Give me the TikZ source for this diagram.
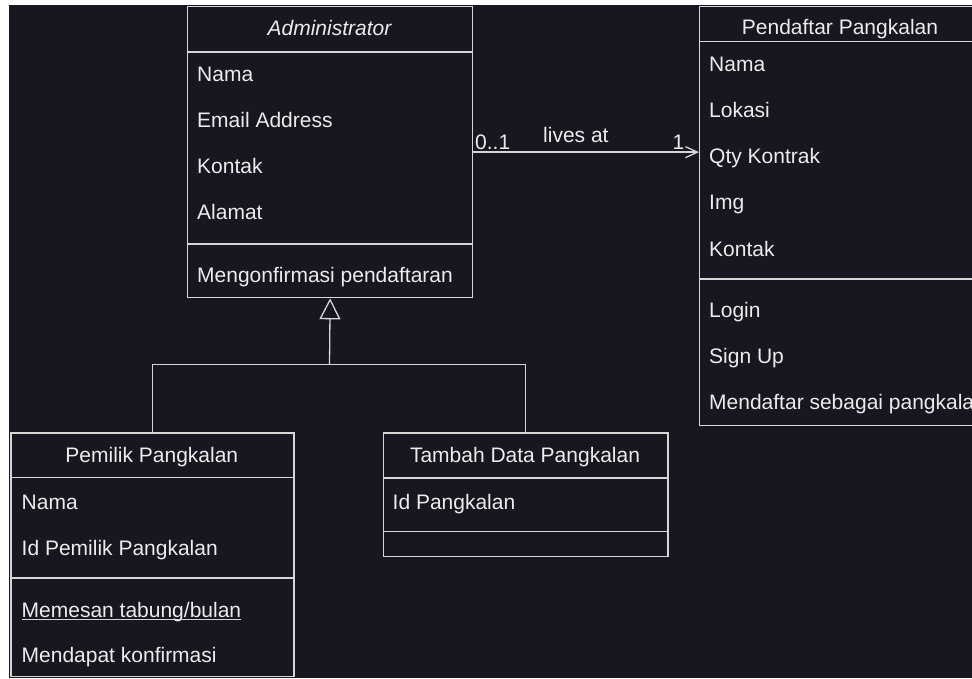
\documentclass[tikz,border=0pt]{standalone}
\usepackage{fontspec}
\setmainfont{Liberation Sans}
\usetikzlibrary{arrows.meta}

\definecolor{canvas}{RGB}{24,22,30}
\definecolor{umlline}{RGB}{214,214,214}
\definecolor{umltext}{RGB}{236,236,236}

\begin{document}
\begin{tikzpicture}[x=1pt, y=-1pt, every node/.style={text=umltext, font=\fontsize{21}{25}\selectfont, inner sep=0pt}, umledge/.style={draw=umlline, line width=1.3pt}, classbox/.style={rectangle, draw=umlline, line width=1.3pt, anchor=north west}, attr/.style={anchor=base west}, head/.style={anchor=base}]
				\fill[white] (0,0) rectangle (972,679);
				\useasboundingbox (0,0) rectangle (972,679);
				\clip (0,0) rectangle (972,679);
				\fill[canvas] (9,5) rectangle (972,677.5);
				
				\node[classbox, minimum width=285pt, minimum height=291pt] (admin) at (187,6){};
				\node[classbox, minimum width=282pt, minimum height=419pt] (pendaftar) at (699,6){};
				\node[classbox, minimum width=283pt, minimum height=243.5pt] (pemilik) at (10.3,432.3){};
				\node[classbox, minimum width=284.5pt, minimum height=123.5pt] (tambah) at (382.7,432.3){};
				
				\draw[umledge] (admin.west |- 0,52) -- (admin.east |- 0,52);
				\draw[umledge] (admin.west |- 0,244) -- (admin.east |- 0,244);
				\draw[umledge] (pendaftar.west |- 0,41.3) -- (pendaftar.east |- 0,41.3);
				\draw[umledge] (pendaftar.west |- 0,279) -- (pendaftar.east |- 0,279);
				\draw[umledge] (pemilik.west |- 0,477.7) -- (pemilik.east |- 0,477.7);
				\draw[umledge] (pemilik.west |- 0,578) -- (pemilik.east |- 0,578);
				\draw[umledge] (tambah.west |- 0,478) -- (tambah.east |- 0,478);
				\draw[umledge] (tambah.west |- 0,531.5) -- (tambah.east |- 0,531.5);
				
				\node[head, font=\fontsize{21}{25}\selectfont\itshape] (adminHead) at (329.5,36){Administrator};
				\node[attr] (adminNama) at (197,82){Nama};
				\node[attr] (adminEmail) at (197,128){Email Address};
				\node[attr] (adminKontak) at (197,174){Kontak};
				\node[attr] (adminAlamat) at (197,220){Alamat};
				\node[attr] (adminKonfirm) at (197,282){Mengonfirmasi pendaftaran};
				
				\node[head] (pendHead) at (840,35){Pendaftar Pangkalan};
				\node[attr] (pendNama) at (709,72){Nama};
				\node[attr] (pendLokasi) at (709,118){Lokasi};
				\node[attr] (pendQty) at (709,164){Qty Kontrak};
				\node[attr] (pendImg) at (709,210){Img};
				\node[attr] (pendKontak) at (709,256){Kontak};
				\node[attr] (pendLogin) at (709,317){Login};
				\node[attr] (pendSignUp) at (709,363){Sign Up};
				\node[attr] (pendDaftar) at (709,409){Mendaftar sebagai pangkalan};
				
				\node[head] (pemHead) at (151.8,462){Pemilik Pangkalan};
				\node[attr] (pemNama) at (21.5,509){Nama};
				\node[attr] (pemId) at (21.5,555.5){Id Pemilik Pangkalan};
				\node[attr] (pemPesan) at (21.5,617.5){Memesan tabung/bulan};
				\node[attr] (pemKonfirm) at (21.5,662){Mendapat konfirmasi};
				\draw[umledge, line width=1.1pt] ([yshift=-1.8pt]pemPesan.base west) -- ([yshift=-1.8pt]pemPesan.base east);
				
				\node[head] (tamHead) at (525,462){Tambah Data Pangkalan};
				\node[attr] (tamId) at (392.5,509){Id Pangkalan};
				
				\draw[umledge, -{Straight Barb[length=12pt, width=11pt]}] (admin.east) -- (admin.east -| pendaftar.west);
				\node[attr] (multAdmin) at (475,150){0..1};
				\node[attr] (livesAt) at (543,143){lives at};
				\node[attr] (multPend) at (672.5,150){1};
				
				\coordinate (fork) at (329.5,364.7);
				\draw[umledge, -{Triangle[open, length=21pt, width=21pt]}] (fork) -- (admin.south);
				\draw[umledge] (pemilik.north) |- (fork) -| (tambah.north);
				\end{tikzpicture}
\end{document}
